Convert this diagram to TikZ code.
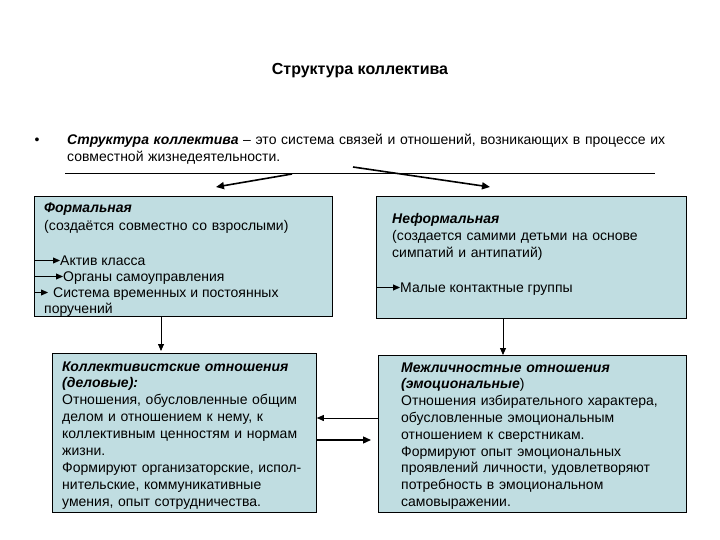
\documentclass[tikz,border=0pt]{standalone}
\usepackage{fontspec}
\setmainfont{Liberation Sans}
\usepackage{tikz}
\usetikzlibrary{arrows.meta, positioning}
\definecolor{boxfill}{RGB}{192,221,225}
\definecolor{mydark}{RGB}{0,0,0}
\tikzset{
  panel/.style={rectangle, draw=black, fill=boxfill, line width=0.8pt,
    inner sep=0pt, anchor=north west},
  txt/.style={font=\fontsize{14}{17}\selectfont, align=left,
    inner sep=0pt, anchor=base west},
  item/.style={txt, text height=9pt, text depth=0pt},
  arrow/.style={-{Triangle[length=8pt,width=7pt]}, line width=1.6pt, color=mydark},
  link/.style={-{Triangle[length=7pt,width=6pt]}, line width=0.8pt, color=mydark}
}
\newcommand{\bi}[1]{\textbf{\textit{#1}}}

\begin{document}
\begin{tikzpicture}[x=1pt, y=-1pt]
  \useasboundingbox[fill=white] (0,0) rectangle (720,540);

  % Title and definition
  \node[font=\fontsize{16}{19}\selectfont\bfseries, anchor=base, inner sep=0pt] (title) at (360,75) {Структура коллектива};
  \node[txt, anchor=base] (bullet) at (37,145) {•};
  \node[txt, text width=640pt] (defn) at (67,145) {\bi{Структура коллектива} – это система связей и отношений, возникающих в процессе их\\совместной жизнедеятельности.};

  % Rule with the two branches
  \coordinate (ruleL) at (65,173);
  \coordinate (ruleR) at (655,173);
  \draw[line width=0.8pt] (ruleL) -- (ruleR);
  \coordinate (forkL) at (292,174);
  \coordinate (forkR) at (353,167);
  \coordinate (formalTip) at (216,187);
  \coordinate (informalTip) at (490,187);
  \draw[arrow] (forkL) -- (formalTip);
  \draw[arrow] (forkR) -- (informalTip);

  % Panels
  \node[panel, minimum width=298pt, minimum height=120pt] (formal) at (34,196) {};
  \node[panel, minimum width=310pt, minimum height=122pt] (informal) at (376,196) {};
  \node[panel, minimum width=264pt, minimum height=159pt] (business) at (52,353) {};
  \node[panel, minimum width=308pt, minimum height=157pt] (emotional) at (378,355) {};

  % Formal panel text
  \node[txt, font=\fontsize{14}{18}\selectfont, text width=290pt] (formalhd) at (44,212) {\bi{Формальная}\\(создаётся совместно со взрослыми)};
  \node[item] (aktiv) at (60,265) {Актив класса};
  \node[item] (organy) at (63,281) {Органы самоуправления};
  \node[item] (sistema) at (53,297) {Система временных и постоянных};
  \node[item] (poruch) at (44,313) {поручений};
  \draw[link] (formal.west |- aktiv.west) -- (aktiv.west);
  \draw[link] (formal.west |- organy.west) -- (organy.west);
  \draw[link] (formal.west |- sistema.west) -- ([xshift=-5pt]sistema.west);

  % Informal panel text
  \node[txt, font=\fontsize{14}{17.5}\selectfont, text width=300pt] (informalhd) at (392,223) {\bi{Неформальная}\\(создается самими детьми на основе\\симпатий и антипатий)};
  \node[item] (groups) at (400,292) {Малые контактные группы};
  \draw[link] (informal.west |- groups.west) -- (groups.west);

  % Relations panels text
  \node[txt, font=\fontsize{14}{16.9}\selectfont, text width=260pt] (businesstxt) at (62,371) {\bi{Коллективистские отношения}\\\bi{(деловые):}\\Отношения, обусловленные общим\\делом и отношением к нему, к\\коллективным ценностям и нормам\\жизни.\\Формируют организаторские, испол-\\нительские, коммуникативные\\умения, опыт сотрудничества.};
  \node[txt, font=\fontsize{14}{16.8}\selectfont, text width=285pt] (emotionaltxt) at (401,372) {\bi{Межличностные отношения}\\\bi{(эмоциональные})\\Отношения избирательного характера,\\обусловленные эмоциональным\\отношением к сверстникам.\\Формируют опыт эмоциональных\\проявлений личности, удовлетворяют\\потребность в эмоциональном\\самовыражении.};

  % Connectors between panels
  \coordinate (leftcol) at (161,0);
  \coordinate (rightcol) at (503,0);
  \coordinate (upperrow) at (0,418);
  \coordinate (lowerrow) at (0,440);
  \draw[link] (formal.south -| leftcol) -- ([yshift=2pt]business.north -| leftcol);
  \draw[link] (informal.south -| rightcol) -- (emotional.north -| rightcol);
  \draw[link] (emotional.west |- upperrow) -- (business.east |- upperrow);
  \draw[arrow, line width=1.3pt] (business.east |- lowerrow) -- ([xshift=-7pt]emotional.west |- lowerrow);
\end{tikzpicture}
\end{document}
